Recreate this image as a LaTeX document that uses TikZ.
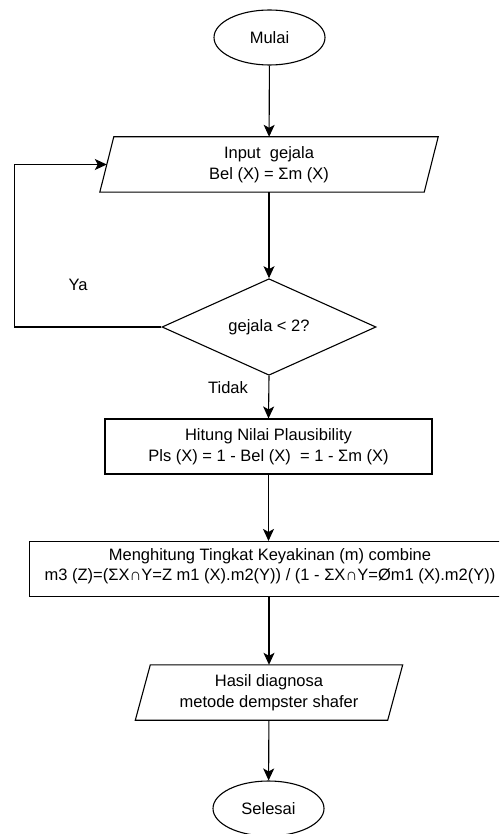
\documentclass[tikz,border=0pt]{standalone}
\usepackage{fontspec}
\setmainfont{Liberation Sans}
\usetikzlibrary{shapes.geometric,arrows.meta}
\begin{document}
\begin{tikzpicture}[x=1pt,y=-1pt,
  every node/.style={font=\fontsize{16.5}{20.5}\selectfont, align=center, inner sep=0pt},
  ln/.style={line width=1.1pt, draw=black},
  arr/.style={ln, -{Stealth[length=12pt,width=11pt,inset=3pt]}},
  term/.style={ln, ellipse, minimum width=111pt, minimum height=55pt},
  proc/.style={ln, rectangle, minimum height=55pt},
  iobox/.style={rectangle, minimum height=55pt},
  dec/.style={ln, diamond, minimum width=214pt, minimum height=54pt},
  lbl/.style={}
]
\useasboundingbox (0,0) rectangle (499,834);
\clip (0,0) rectangle (499,834);
\node[term] (start) at (269.5,37.5) {Mulai};
\node[iobox, minimum width=324pt] (in) at (269,164.5) {Input\ \ gejala\\Bel (X) = Σm (X)};
\draw[ln] ([xshift=7pt]in.north west) -- ([xshift=7pt]in.north east) -- ([xshift=-7pt]in.south east) -- ([xshift=-7pt]in.south west) -- cycle;
\node[dec] (cek) at (269,327) {gejala < 2?};
\node[proc, minimum width=327pt] (pls) at (268.5,446.5) {Hitung Nilai Plausibility\\Pls (X) = 1 - Bel (X)\ \ = 1 - Σm (X)};
\node[proc, minimum width=530pt, anchor=west] (comb) at (29,569) {};
\node (combtext) at (270,566) {Menghitung Tingkat Keyakinan (m) combine\\m3 (Z)=(ΣX∩Y=Z m1 (X).m2(Y)) / (1 - ΣX∩Y=Øm1 (X).m2(Y))};
\node[iobox, minimum width=252pt] (out) at (269,692.5) {Hasil diagnosa\\metode dempster shafer};
\draw[ln] ([xshift=7.5pt]out.north west) -- ([xshift=7.5pt]out.north east) -- ([xshift=-7.5pt]out.south east) -- ([xshift=-7.5pt]out.south west) -- cycle;
\node[term] (end) at (268.5,808.5) {Selesai};
\node[lbl] (ya) at (78,285) {Ya};
\node[lbl] (tidak) at (228,388) {Tidak};
\draw[arr] (start) -- (in);
\draw[arr] (in) -- (cek);
\draw[arr] (cek.south) -- (pls.north);
\draw[arr] (pls) -- (comb.north -| pls);
\draw[arr] (comb.south -| out) -- (out);
\draw[arr] (out) -- (end);
\draw[arr] (cek.west) -- ++(-147,0) |- (in.west);
\end{tikzpicture}
\end{document}
